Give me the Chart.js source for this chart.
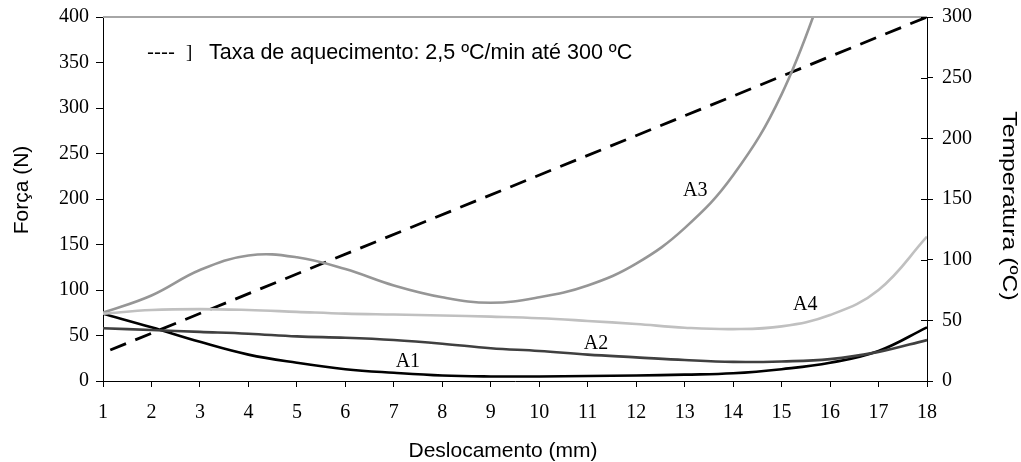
<!DOCTYPE html>
<html><head><meta charset="utf-8">
<script src="https://cdn.jsdelivr.net/npm/chart.js@4/dist/chart.umd.min.js"></script>
<style>html,body{margin:0;padding:0;background:#fff}canvas{display:block}</style>
</head><body>
<canvas id="c" width="1021" height="462"></canvas>
<script>
// Deslocamento (mm)
const xValues = [1,2,3,4,5,6,7,8,9,10,11,12,13,14,15,16,17,18];
// Força (N)
const a1 = [74,59,43,29,20,13,9,6,5,5,5.5,6,7,8.5,13,20,33,59];
const a2 = [58,56,54,52,49,47.5,45,41,36,33,29,26,23,21,21.5,24,32,45];
const a3 = [75,94,122,138,136,123,105,92,86,92,105,129,168,226,315,450];
const a4 = [74,78,79,78,76,74,73,72,70.7,69,66,62.6,58.6,57,60,72.5,100,158.6];
// Temperatura (ºC)
const tempX = [1.15,18];
const tempY = [25.5,300];
const leftTicks = [0,50,100,150,200,250,300,350,400];
const rightTicks = [0,50,100,150,200,250,300];
const seriesNames = ['A1','A2','A3','A4'];
const seriesLabelAt = [[7.29,15.7],[11.17,35.2],[13.22,203.3],[15.49,78]];
const legendText = 'Taxa de aquecimento: 2,5 ºC/min até 300 ºC';

const pts = (xs, ys) => ys.map((y,i)=>({x:xs[i], y}));
const SERIF = "'Liberation Serif','Times New Roman',serif";
const SANS = "'Liberation Sans',Arial,sans-serif";

const extras = {
  id:'extras',
  afterDraw(chart){
    const {ctx, chartArea:ca, scales} = chart;
    ctx.save();
    // top border
    ctx.strokeStyle='#a6a6a6'; ctx.lineWidth=2;
    ctx.beginPath(); ctx.moveTo(ca.left, ca.top); ctx.lineTo(ca.right, ca.top); ctx.stroke();
    // inner ticks on right axis
    ctx.strokeStyle='#000'; ctx.lineWidth=1;
    rightTicks.forEach(v=>{
      const y = Math.round(scales.y1.getPixelForValue(v))+0.5;
      ctx.beginPath(); ctx.moveTo(ca.right-6, y); ctx.lineTo(ca.right, y); ctx.stroke();
    });
    // series labels
    ctx.fillStyle='#000'; ctx.font='20px '+SERIF; ctx.textAlign='center'; ctx.textBaseline='alphabetic';
    seriesNames.forEach((n,i)=>{
      ctx.fillText(n, scales.x.getPixelForValue(seriesLabelAt[i][0]), scales.y.getPixelForValue(seriesLabelAt[i][1]));
    });
    // legend
    ctx.textAlign='left';
    ctx.font='21px '+SANS;
    ctx.fillText('----', 147, 59);
    ctx.font='19px '+SERIF;
    ctx.fillText(']', 186, 58);
    ctx.font='21.5px '+SANS;
    ctx.fillText(legendText, 209, 59);
    // axis titles
    ctx.textAlign='center';
    ctx.font='21px '+SANS;
    ctx.fillText('Deslocamento (mm)', 503, 457);
    ctx.save(); ctx.translate(28, 190); ctx.rotate(-Math.PI/2);
    ctx.fillText('Força (N)', 0, 0); ctx.restore();
    ctx.save(); ctx.translate(1003, 206); ctx.rotate(Math.PI/2); ctx.scale(1.18,1);
    ctx.fillText('Temperatura (ºC)', 0, 0); ctx.restore();
    ctx.restore();
  }
};

const lineDs = (label, data, color) => ({
  label, data, borderColor: color, borderWidth: 2.6, pointRadius: 0, fill: false,
  tension: 0.4, yAxisID: 'y'
});

new Chart(document.getElementById('c'), {
  type: 'line',
  data: {
    datasets: [
      lineDs('A4', pts(xValues, a4), '#c0c0c0'),
      lineDs('A3', pts(xValues, a3), '#969696'),
      lineDs('A2', pts(xValues, a2), '#404040'),
      lineDs('A1', pts(xValues, a1), '#000000'),
      { label:'Temperatura', data: pts(tempX, tempY), borderColor:'#000', borderWidth:2.8,
        borderDash:[17,10], pointRadius:0, fill:false, yAxisID:'y1' }
    ]
  },
  options: {
    responsive:false, animation:false, devicePixelRatio:1,
    layout:{ padding:{ top:17, left:0, right:0, bottom:0 } },
    plugins:{ legend:{display:false}, tooltip:{enabled:false} },
    scales:{
      x:{ type:'linear', min:1, max:18,
        afterFit(s){ s.height = 81; s.paddingLeft = 0; s.paddingRight = 0; },
        afterBuildTicks(s){ s.ticks = xValues.map(v=>({value:v})); },
        ticks:{ autoSkip:false, color:'#000', font:{family:SERIF, size:20}, padding:14, maxRotation:0 },
        grid:{ drawOnChartArea:false, drawTicks:true, tickLength:6, tickColor:'#000' },
        border:{ color:'#000', width:1 } },
      y:{ type:'linear', position:'left', min:0, max:400,
        afterFit(s){ s.width = 103; s.paddingTop = 0; s.paddingBottom = 0; },
        afterBuildTicks(s){ s.ticks = leftTicks.map(v=>({value:v})); },
        ticks:{ color:'#000', font:{family:SERIF, size:20}, padding:7 },
        grid:{ drawOnChartArea:false, drawTicks:true, tickLength:7, tickColor:'#000' },
        border:{ color:'#000', width:1 } },
      y1:{ type:'linear', position:'right', min:0, max:300,
        afterFit(s){ s.width = 94; s.paddingTop = 0; s.paddingBottom = 0; },
        afterBuildTicks(s){ s.ticks = rightTicks.map(v=>({value:v})); },
        ticks:{ color:'#000', font:{family:SERIF, size:20}, padding:9 },
        grid:{ drawOnChartArea:false, drawTicks:true, tickLength:6, tickColor:'#000' },
        border:{ color:'#000', width:1 } }
    }
  },
  plugins:[extras]
});
</script>
</body></html>
